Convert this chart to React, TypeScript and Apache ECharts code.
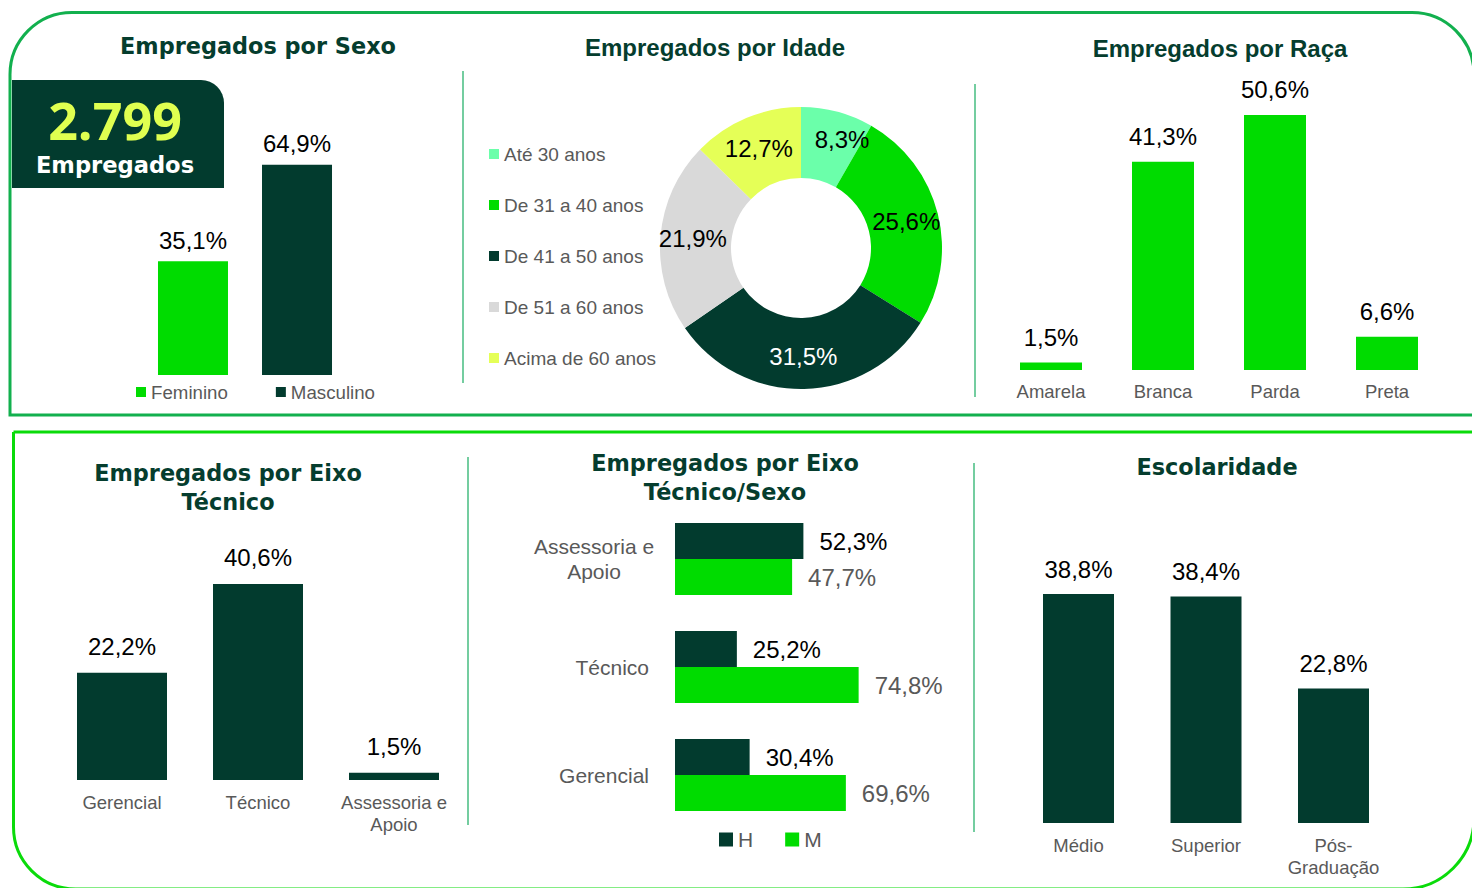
import React, { useEffect, useRef } from 'react';
import * as echarts from 'echarts';

// ---------- data ----------
const TOTAL_EMPLOYEES = '2.799';
const SEX_LABELS = ['Feminino', 'Masculino'];
const SEX_VALUES = [35.1, 64.9];
const AGE_LABELS = ['Até 30 anos', 'De 31 a 40 anos', 'De 41 a 50 anos', 'De 51 a 60 anos', 'Acima de 60 anos'];
const AGE_VALUES = [8.3, 25.6, 31.5, 21.9, 12.7];
const RACE_LABELS = ['Amarela', 'Branca', 'Parda', 'Preta'];
const RACE_VALUES = [1.5, 41.3, 50.6, 6.6];
const AXIS_LABELS = ['Gerencial', 'Técnico', 'Assessoria e\nApoio'];
const AXIS_VALUES = [22.2, 40.6, 1.5];
const AXIS_SEX_LABELS = ['Assessoria e\nApoio', 'Técnico', 'Gerencial'];
const AXIS_SEX_H = [52.3, 25.2, 30.4];
const AXIS_SEX_M = [47.7, 74.8, 69.6];
const SEX_SHORT = ['H', 'M'];
const EDU_LABELS = ['Médio', 'Superior', 'Pós-\nGraduação'];
const EDU_VALUES = [38.8, 38.4, 22.8];

// ---------- styles ----------
const DARK = '#023B2E';
const BRIGHT = '#00DC00';
const AGE_COLORS = ['#6BFFAA', BRIGHT, DARK, '#D9D9D9', '#E5FF57'];
const TITLE_COLOR = '#053D2E';
const GREY = '#595959';
const SANS = '"Liberation Sans", Arial, sans-serif';
const WIDE = '"DejaVu Sans", Verdana, sans-serif';
const NUM_FONT = '"Open Sans", "Noto Sans", sans-serif';

const pct = (v: number) => v.toFixed(1).replace('.', ',') + '%';
const fmtLabel = (p: any) => pct(Number(p.value));

const dataLabel = (distance: number, color = '#000') => ({
  show: true,
  position: 'top',
  distance,
  formatter: fmtLabel,
  color,
  fontSize: 24,
  fontFamily: SANS,
});

const catAxis = (gridIndex: number, data: string[], margin: number) => ({
  gridIndex,
  type: 'category',
  data,
  axisLine: { show: false },
  axisTick: { show: false },
  axisLabel: { margin, color: GREY, fontSize: 18.5, fontFamily: SANS, lineHeight: 22, interval: 0 },
});

const title = (text: string, x: number, y: number, font: string) => ({
  type: 'text',
  x,
  y,
  style: {
    text,
    fill: TITLE_COLOR,
    font,
    textAlign: 'center',
    textVerticalAlign: 'middle',
    lineHeight: 29,
  },
});

const sepLine = (x: number, y1: number, y2: number) => ({
  type: 'line',
  shape: { x1: x, y1, x2: x, y2 },
  style: { stroke: '#46BC80', lineWidth: 1.5 },
});

function buildOption() {
  const wideTitle = `bold 22.4px ${WIDE}`;
  const arialTitle = `bold 24px ${SANS}`;
  return {
    animation: false,
    backgroundColor: '#ffffff',
    graphic: [
      {
        type: 'rect',
        shape: { x: 10, y: 12.5, width: 1464, height: 402.5, r: [62, 62, 0, 0] },
        style: { fill: 'none', stroke: '#12B04E', lineWidth: 3 },
      },
      {
        type: 'rect',
        shape: { x: 13.5, y: 432, width: 1460.5, height: 457, r: [0, 0, 71, 62] },
        style: { fill: 'none', stroke: '#0ADB0A', lineWidth: 3 },
      },
      {
        type: 'rect',
        shape: { x: 12, y: 80, width: 212, height: 108, r: [0, 23, 0, 0] },
        style: { fill: DARK },
      },
      {
        type: 'text',
        x: 115,
        y: 119,
        style: {
          text: TOTAL_EMPLOYEES,
          fill: '#E0FF50',
          font: `bold 52px ${NUM_FONT}`,
          lineHeight: 40,
          textAlign: 'center',
          textVerticalAlign: 'middle',
        },
      },
      {
        type: 'text',
        x: 115,
        y: 165,
        style: {
          text: 'Empregados',
          fill: '#ffffff',
          font: `bold 22.6px ${WIDE}`,
          lineHeight: 24,
          textAlign: 'center',
          textVerticalAlign: 'middle',
        },
      },
      title('Empregados por Sexo', 258, 46, wideTitle),
      title('Empregados por Idade', 715, 47, arialTitle),
      title('Empregados por Raça', 1220, 48, arialTitle),
      title('Empregados por Eixo\nTécnico', 228, 487.5, wideTitle),
      title('Empregados por Eixo\nTécnico/Sexo', 725, 477.5, wideTitle),
      title('Escolaridade', 1217, 467, wideTitle),
      sepLine(463, 71, 383),
      sepLine(975, 84, 397),
      sepLine(468, 457, 825),
      sepLine(974, 463, 832),
    ],
    legend: [
      {
        data: SEX_LABELS,
        left: 131,
        top: 377,
        orient: 'horizontal',
        itemWidth: 10,
        itemHeight: 10,
        itemGap: 48,
        icon: 'rect',
        selectedMode: false,
        textStyle: { color: GREY, fontSize: 18.7, fontFamily: SANS, lineHeight: 20 },
      },
      {
        data: AGE_LABELS,
        left: 484,
        top: 139,
        orient: 'vertical',
        itemWidth: 10,
        itemHeight: 10,
        itemGap: 31,
        icon: 'rect',
        selectedMode: false,
        textStyle: { color: GREY, fontSize: 19, fontFamily: SANS, lineHeight: 20 },
      },
      {
        data: SEX_SHORT,
        left: 714,
        top: 824,
        orient: 'horizontal',
        itemWidth: 14,
        itemHeight: 14,
        itemGap: 32,
        icon: 'rect',
        selectedMode: false,
        textStyle: { color: GREY, fontSize: 21, fontFamily: SANS, lineHeight: 20 },
      },
    ],
    grid: [
      { left: 150, top: 148.2, width: 190, height: 226.8 },
      { left: 995, top: 67.6, width: 448, height: 302.4 },
      { left: 54, top: 538.5, width: 408, height: 241.5 },
      { left: 675, top: 505, width: 245.5, height: 324 },
      { left: 1014.75, top: 557.5, width: 382.5, height: 265.5 },
    ],
    xAxis: [
      { gridIndex: 0, type: 'category', data: [''], show: false },
      catAxis(1, RACE_LABELS, 10),
      catAxis(2, AXIS_LABELS, 11),
      { gridIndex: 3, type: 'value', min: 0, max: 100, show: false },
      catAxis(4, EDU_LABELS, 11),
    ],
    yAxis: [
      { gridIndex: 0, type: 'value', min: 0, max: 70, show: false },
      { gridIndex: 1, type: 'value', min: 0, max: 60, show: false },
      { gridIndex: 2, type: 'value', min: 0, max: 50, show: false },
      {
        gridIndex: 3,
        type: 'category',
        data: AXIS_SEX_LABELS,
        inverse: true,
        axisLine: { show: false },
        axisTick: { show: false },
        axisLabel: {
          margin: 26,
          color: GREY,
          fontSize: 21,
          fontFamily: SANS,
          formatter: (v: string) =>
            v.indexOf('\n') >= 0 ? v.split('\n').map((s) => `{c|${s}}`).join('\n') : v,
          rich: {
            c: { width: 110, align: 'center', color: GREY, fontSize: 21, fontFamily: SANS, lineHeight: 25 },
          },
        },
      },
      { gridIndex: 4, type: 'value', min: 0, max: 45, show: false },
    ],
    series: [
      {
        type: 'bar',
        name: SEX_LABELS[0],
        xAxisIndex: 0,
        yAxisIndex: 0,
        data: [SEX_VALUES[0]],
        barWidth: 70,
        barGap: '48.6%',
        itemStyle: { color: BRIGHT },
        label: dataLabel(9),
      },
      {
        type: 'bar',
        name: SEX_LABELS[1],
        xAxisIndex: 0,
        yAxisIndex: 0,
        data: [SEX_VALUES[1]],
        barWidth: 70,
        barGap: '48.6%',
        itemStyle: { color: DARK },
        label: dataLabel(9),
      },
      {
        type: 'pie',
        name: 'Idade',
        center: [801, 248],
        radius: [70, 141],
        startAngle: 90,
        clockwise: true,
        avoidLabelOverlap: false,
        labelLine: { show: false },
        label: {
          show: true,
          position: 'inside',
          formatter: fmtLabel,
          fontSize: 24,
          fontFamily: SANS,
          color: '#000',
        },
        data: AGE_LABELS.map((name, i) => ({
          name,
          value: AGE_VALUES[i],
          itemStyle: { color: AGE_COLORS[i] },
          label: i === 2 ? { color: '#fff' } : i === 0 ? { offset: [13, -4] } : {},
        })),
      },
      {
        type: 'bar',
        name: 'Raça',
        xAxisIndex: 1,
        yAxisIndex: 1,
        data: RACE_VALUES,
        barWidth: 62,
        itemStyle: { color: BRIGHT },
        label: dataLabel(13),
      },
      {
        type: 'bar',
        name: 'Eixo',
        xAxisIndex: 2,
        yAxisIndex: 2,
        data: AXIS_VALUES,
        barWidth: 90,
        itemStyle: { color: DARK },
        label: dataLabel(14),
      },
      {
        type: 'bar',
        name: SEX_SHORT[0],
        xAxisIndex: 3,
        yAxisIndex: 3,
        data: AXIS_SEX_H,
        barWidth: 36,
        barGap: '0%',
        itemStyle: { color: DARK },
        label: { ...dataLabel(16), position: 'right' },
      },
      {
        type: 'bar',
        name: SEX_SHORT[1],
        xAxisIndex: 3,
        yAxisIndex: 3,
        data: AXIS_SEX_M,
        barWidth: 36,
        barGap: '0%',
        itemStyle: { color: BRIGHT },
        label: { ...dataLabel(16, GREY), position: 'right' },
      },
      {
        type: 'bar',
        name: 'Escolaridade',
        xAxisIndex: 4,
        yAxisIndex: 4,
        data: EDU_VALUES,
        barWidth: 71,
        itemStyle: { color: DARK },
        label: dataLabel(13),
      },
    ],
  };
}

export default function App() {
  const ref = useRef<HTMLDivElement>(null);
  useEffect(() => {
    if (!ref.current) return;
    const chart = echarts.init(ref.current, null, { renderer: 'svg' });
    chart.setOption(buildOption() as any);
    return () => chart.dispose();
  }, []);
  return (
    <div
      ref={ref}
      style={{ position: 'fixed', left: 0, top: 0, width: 1472, height: 888, background: '#fff' }}
    />
  );
}
